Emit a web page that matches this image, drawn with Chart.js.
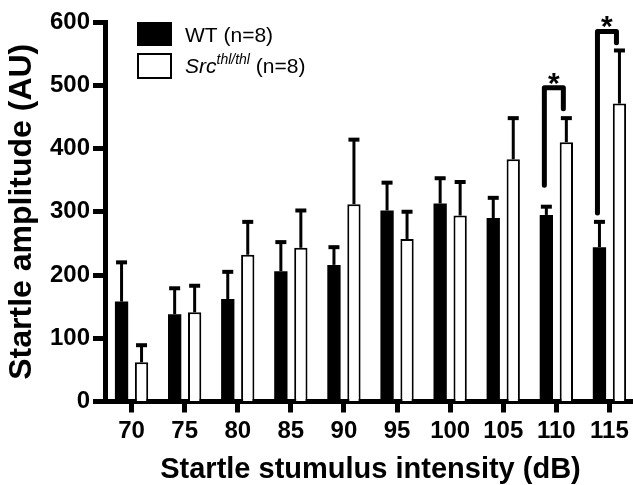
<!DOCTYPE html>
<html>
<head>
<meta charset="utf-8">
<script src="https://cdn.jsdelivr.net/npm/chart.js@4"></script>
<style>
  html, body { margin: 0; padding: 0; background: #fff; overflow: hidden; }
  canvas { display: block; }
</style>
</head>
<body>
<canvas id="chart" width="640" height="485"></canvas>
<script>
const labels = ['70', '75', '80', '85', '90', '95', '100', '105', '110', '115']
const wtMeans = [158, 138, 162, 206, 216, 302, 313, 290, 295, 244]
const wtSem = [62, 41, 43, 46, 28, 44, 40, 32, 13, 40]
const srcMeans = [62, 141, 232, 243, 312, 257, 294, 383, 410, 471]
const srcSem = [27, 42, 52, 59, 102, 43, 53, 65, 38, 84]

// significance brackets: category index, left foot, top, right foot (AU)
const brackets = [
  { index: 8, left: 342, top: 496, right: 463 },
  { index: 9, left: 298, top: 585, right: 567 }
]

const font = "'Liberation Sans', Arial, sans-serif"

const errorBars = {
  id: 'errorBars',
  afterDatasetsDraw(chart) {
    const { ctx, scales: { y } } = chart
    const sems = [wtSem, srcSem]
    ctx.save()
    ctx.strokeStyle = '#000'
    chart.data.datasets.forEach((ds, i) => {
      const meta = chart.getDatasetMeta(i)
      meta.data.forEach((bar, j) => {
        const top = y.getPixelForValue(ds.data[j] + sems[i][j])
        ctx.lineWidth = 3
        ctx.beginPath()
        ctx.moveTo(bar.x, bar.y)
        ctx.lineTo(bar.x, top)
        ctx.stroke()
        ctx.lineWidth = 4
        ctx.beginPath()
        ctx.moveTo(bar.x - 5.5, top)
        ctx.lineTo(bar.x + 5.5, top)
        ctx.stroke()
      })
    })
    ctx.restore()
  }
}

const extras = {
  id: 'extras',
  afterDraw(chart) {
    const { ctx, scales: { y } } = chart
    ctx.save()
    // brackets
    ctx.strokeStyle = '#000'
    ctx.fillStyle = '#000'
    ctx.lineWidth = 5
    ctx.lineJoin = 'round'
    ctx.lineCap = 'round'
    brackets.forEach(b => {
      const xl = chart.getDatasetMeta(0).data[b.index].x - 2
      const xr = chart.getDatasetMeta(1).data[b.index].x - 3
      const yt = y.getPixelForValue(b.top)
      ctx.beginPath()
      ctx.moveTo(xl, y.getPixelForValue(b.left))
      ctx.lineTo(xl, yt)
      ctx.lineTo(xr, yt)
      ctx.lineTo(xr, y.getPixelForValue(b.right))
      ctx.stroke()
      ctx.font = `bold 30px ${font}`
      ctx.textAlign = 'center'
      ctx.textBaseline = 'alphabetic'
      ctx.fillText('*', (xl + xr) / 2, yt + 5)
    })

    // legend
    ctx.fillRect(137, 22, 35, 24)
    ctx.lineWidth = 2
    ctx.lineCap = 'butt'
    ctx.lineJoin = 'miter'
    ctx.strokeRect(138, 54, 33, 24)
    ctx.textAlign = 'left'
    ctx.font = `21px ${font}`
    ctx.fillText('WT (n=8)', 185, 42)
    let x = 185
    ctx.font = `italic 21px ${font}`
    ctx.fillText('Src', x, 73)
    x += ctx.measureText('Src').width
    ctx.font = `italic 14px ${font}`
    ctx.fillText('thl/thl', x, 64)
    x += ctx.measureText('thl/thl').width
    ctx.font = `21px ${font}`
    ctx.fillText(' (n=8)', x, 73)
    ctx.restore()
  }
}

new Chart(document.getElementById('chart'), {
  type: 'bar',
  data: {
    labels: labels,
    datasets: [{
      label: 'WT (n=8)',
      data: wtMeans,
      backgroundColor: '#000',
      borderColor: '#000',
      borderWidth: 0
    }, {
      label: 'Src thl/thl (n=8)',
      data: srcMeans,
      backgroundColor: '#fff',
      borderColor: '#000',
      borderWidth: 2
    }]
  },
  options: {
    responsive: false,
    animation: false,
    categoryPercentage: 0.753,
    barPercentage: 0.665,
    layout: { padding: { top: 22, right: 4, left: 0, bottom: 0 } },
    plugins: {
      legend: { display: false },
      tooltip: { enabled: false }
    },
    scales: {
      x: {
        afterFit: (scale) => { scale.height = 83.5 },
        grid: {
          offset: false,
          drawOnChartArea: false,
          tickLength: 11,
          tickWidth: 5,
          tickColor: '#000'
        },
        border: { color: '#000', width: 5 },
        ticks: {
          color: '#000',
          padding: 4,
          maxRotation: 0,
          font: { family: font, size: 24, weight: 'bold' }
        },
        title: {
          display: true,
          text: 'Startle stumulus intensity (dB)',
          color: '#000',
          padding: { top: 0, bottom: 1 },
          font: { family: font, size: 29, weight: 'bold', lineHeight: 1 }
        }
      },
      y: {
        min: 0,
        max: 600,
        afterFit: (scale) => { scale.width = 105 },
        ticks: {
          stepSize: 100,
          color: '#000',
          padding: 3,
          font: { family: font, size: 24, weight: 'bold' }
        },
        grid: {
          drawOnChartArea: false,
          tickLength: 12,
          tickWidth: 5,
          tickColor: '#000'
        },
        border: { color: '#000', width: 5 },
        title: {
          display: true,
          text: 'Startle amplitude (AU)',
          color: '#000',
          padding: { top: 6, bottom: 0 },
          font: { family: font, size: 32, weight: 'bold', lineHeight: 1 }
        }
      }
    }
  },
  plugins: [errorBars, extras]
})
</script>
</body>
</html>
